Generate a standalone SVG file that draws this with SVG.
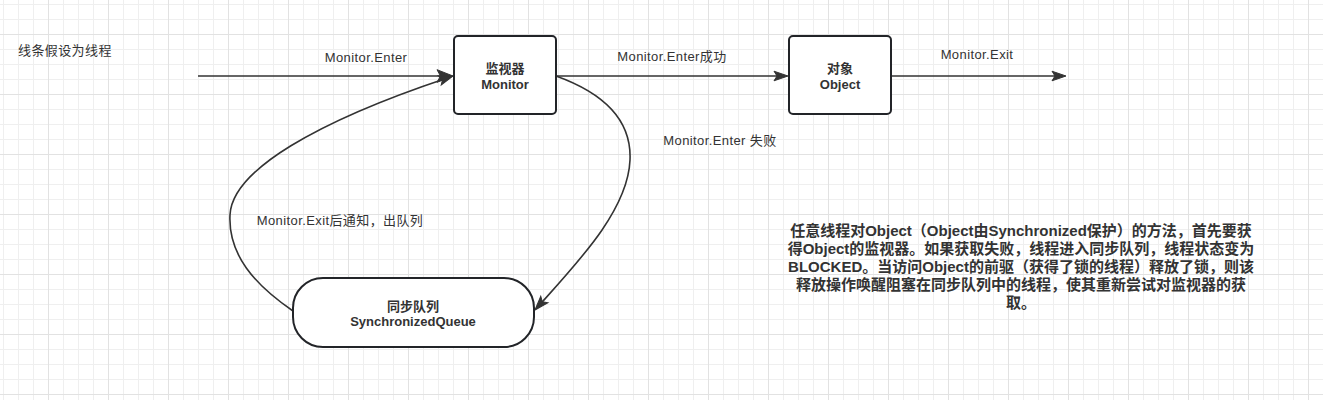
<svg xmlns="http://www.w3.org/2000/svg" width="1323" height="400" viewBox="0 0 1323 400">
<defs>
<pattern id="gridpat" patternUnits="userSpaceOnUse" x="3" y="4" width="60" height="60">
<path d="M0.5,0V60M15.5,0V60M30.5,0V60M0,0.5H60M0,15.5H60M0,45.5H60" stroke="#efefef" stroke-width="1" fill="none"/>
<path d="M45.5,0V60M0,30.5H60" stroke="#e2e2e2" stroke-width="1" fill="none"/>
</pattern>
<marker id="arrowS" markerUnits="userSpaceOnUse" markerWidth="20" markerHeight="20" refX="0" refY="0" orient="auto" overflow="visible">
<path d="M6,0 L-8,-4.8 L-5,0 L-8,4.8 Z" fill="#333333" stroke="#333333" stroke-width="1"/>
</marker>
<marker id="arrowL" markerUnits="userSpaceOnUse" markerWidth="20" markerHeight="20" refX="0" refY="0" orient="auto" overflow="visible">
<path d="M7,0 L-9,-6.3 L-5.5,0 L-9,6.3 Z" fill="#333333" stroke="#333333" stroke-width="1"/>
</marker>
<style>
.lbl{font-family:"Liberation Sans","Noto Sans CJK SC",sans-serif;font-size:13px;fill:#333333;letter-spacing:0.4px}
.node{fill:#ffffff;stroke:#222428;stroke-width:2}
.ntxt{font-family:"Liberation Sans","Noto Sans CJK SC",sans-serif;font-size:13px;font-weight:bold;fill:#333333;text-anchor:middle}
.edge{fill:none;stroke:#333333;stroke-width:1.6}
.note{font-family:"Liberation Sans","Noto Sans CJK SC",sans-serif;font-size:15px;font-weight:bold;fill:#333333;text-anchor:middle}
</style>
</defs>
<g id="background">
<rect x="0" y="0" width="1323" height="400" fill="#ffffff"/>
<rect x="0" y="0" width="1323" height="400" fill="url(#gridpat)"/>
</g>
<g id="caption">
<text class="lbl" x="18" y="55">线条假设为线程</text>
</g>
<g id="connectors">
<path class="edge" d="M198,76 L446,76" stroke-width="2.2" marker-end="url(#arrowL)"/>
<path class="edge" d="M557,76 L782,76" marker-end="url(#arrowS)"/>
<path class="edge" d="M891,76 L1060,76" marker-end="url(#arrowS)"/>
<path class="edge" d="M556,76 C595,90 632,115 630,160 C628,210 578,262 539,305.5" marker-end="url(#arrowS)"/>
<path class="edge" d="M293,311 C255,285 228,255 230,215 C232,170 318,121 447.3,77.9" marker-end="url(#arrowS)"/>
<text class="lbl" x="366" y="61.5" text-anchor="middle">Monitor.Enter</text>
<text class="lbl" x="672" y="61" text-anchor="middle">Monitor.Enter成功</text>
<text class="lbl" x="977" y="58.5" text-anchor="middle">Monitor.Exit</text>
<text class="lbl" x="720" y="145" text-anchor="middle">Monitor.Enter 失败</text>
<text class="lbl" x="340" y="225" text-anchor="middle">Monitor.Exit后通知，出队列</text>
</g>
<g id="monitor">
<rect class="node" x="454" y="36" width="102" height="78" rx="4"/>
<text class="ntxt" x="505" y="72.5">监视器</text>
<text class="ntxt" x="505" y="88.5">Monitor</text>
</g>
<g id="object">
<rect class="node" x="789" y="36" width="102" height="78" rx="4"/>
<text class="ntxt" x="840" y="72.5">对象</text>
<text class="ntxt" x="840" y="88.5">Object</text>
</g>
<g id="queue">
<rect class="node" x="293" y="278" width="241" height="69" rx="30"/>
<text class="ntxt" x="413" y="310.5">同步队列</text>
<text class="ntxt" x="413" y="326">SynchronizedQueue</text>
</g>
<g id="note">
<text class="note" x="1021" y="235.5">任意线程对Object（Object由Synchronized保护）的方法，首先要获</text>
<text class="note" x="1021" y="253.5">得Object的监视器。如果获取失败，线程进入同步队列，线程状态变为</text>
<text class="note" x="1021" y="271.5">BLOCKED。当访问Object的前驱（获得了锁的线程）释放了锁，则该</text>
<text class="note" x="1021" y="289.5">释放操作唤醒阻塞在同步队列中的线程，使其重新尝试对监视器的获</text>
<text class="note" x="1021" y="307.5">取。</text>
</g>
</svg>
